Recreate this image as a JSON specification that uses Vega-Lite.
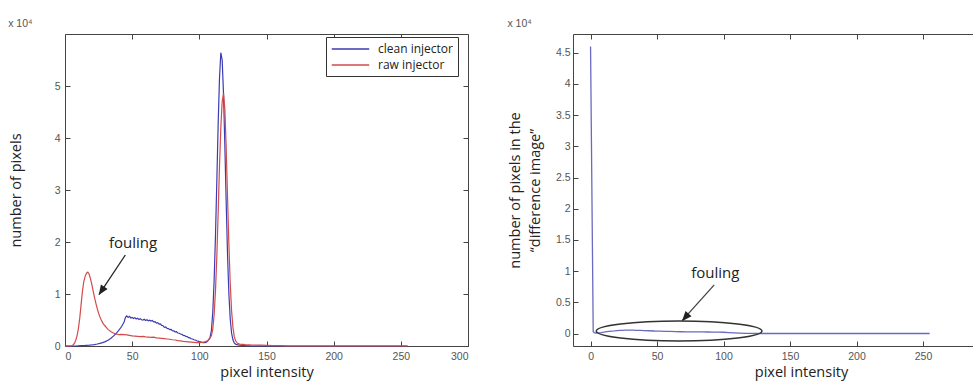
{
  "$schema": "https://vega.github.io/schema/vega-lite/v6.json",
  "background": "white",
  "padding": {"left": 7, "top": 18, "right": 5, "bottom": 5},
  "spacing": 105,
  "bounds": "flush",
  "config": {
    "view": {"stroke": "#444", "strokeWidth": 1},
    "axis": {"grid": false, "domain": false, "tickSize": -5, "tickColor": "#444", "tickWidth": 1, "labelFont": "Liberation Sans", "labelFontSize": 10.5, "labelColor": "#555", "labelPadding": 10, "titleFont": "Open Sans", "titleFontSize": 14.5, "titleFontWeight": "normal", "titleColor": "#222"},
    "title": {"font": "Liberation Sans", "fontSize": 10.5, "fontWeight": "normal", "color": "#555", "anchor": "start", "offset": 4}
  },
  "datasets": {
    "hist": [
      {"v":0,"n":0,"s":"clean injector"},{"v":5,"n":0,"s":"clean injector"},{"v":8,"n":0,"s":"clean injector"},{"v":10,"n":50,"s":"clean injector"},{"v":12,"n":80,"s":"clean injector"},{"v":14,"n":100,"s":"clean injector"},{"v":16,"n":120,"s":"clean injector"},{"v":18,"n":150,"s":"clean injector"},{"v":20,"n":200,"s":"clean injector"},{"v":22,"n":280,"s":"clean injector"},{"v":24,"n":380,"s":"clean injector"},{"v":26,"n":500,"s":"clean injector"},{"v":28,"n":650,"s":"clean injector"},{"v":30,"n":850,"s":"clean injector"},{"v":32,"n":1100,"s":"clean injector"},{"v":34,"n":1450,"s":"clean injector"},{"v":36,"n":1900,"s":"clean injector"},{"v":38,"n":2400,"s":"clean injector"},{"v":40,"n":3000,"s":"clean injector"},{"v":42,"n":3700,"s":"clean injector"},{"v":44,"n":4600,"s":"clean injector"},{"v":45,"n":5500,"s":"clean injector"},{"v":46,"n":5800,"s":"clean injector"},{"v":47,"n":5500,"s":"clean injector"},{"v":48,"n":5700,"s":"clean injector"},{"v":49,"n":5400,"s":"clean injector"},{"v":50,"n":5500,"s":"clean injector"},{"v":51,"n":5300,"s":"clean injector"},{"v":52,"n":5450,"s":"clean injector"},{"v":53,"n":5200,"s":"clean injector"},{"v":54,"n":5350,"s":"clean injector"},{"v":55,"n":5100,"s":"clean injector"},{"v":56,"n":5250,"s":"clean injector"},{"v":57,"n":5050,"s":"clean injector"},{"v":58,"n":5000,"s":"clean injector"},{"v":59,"n":5150,"s":"clean injector"},{"v":60,"n":4900,"s":"clean injector"},{"v":61,"n":5050,"s":"clean injector"},{"v":62,"n":4850,"s":"clean injector"},{"v":63,"n":4950,"s":"clean injector"},{"v":64,"n":4800,"s":"clean injector"},{"v":65,"n":4900,"s":"clean injector"},{"v":66,"n":4650,"s":"clean injector"},{"v":67,"n":4700,"s":"clean injector"},{"v":68,"n":4400,"s":"clean injector"},{"v":69,"n":4500,"s":"clean injector"},{"v":70,"n":4200,"s":"clean injector"},{"v":71,"n":4250,"s":"clean injector"},{"v":72,"n":3950,"s":"clean injector"},{"v":73,"n":3900,"s":"clean injector"},{"v":74,"n":3600,"s":"clean injector"},{"v":75,"n":3650,"s":"clean injector"},{"v":76,"n":3400,"s":"clean injector"},{"v":77,"n":3350,"s":"clean injector"},{"v":78,"n":3150,"s":"clean injector"},{"v":79,"n":3200,"s":"clean injector"},{"v":80,"n":2950,"s":"clean injector"},{"v":81,"n":2900,"s":"clean injector"},{"v":82,"n":2700,"s":"clean injector"},{"v":83,"n":2750,"s":"clean injector"},{"v":84,"n":2500,"s":"clean injector"},{"v":85,"n":2450,"s":"clean injector"},{"v":86,"n":2300,"s":"clean injector"},{"v":87,"n":2250,"s":"clean injector"},{"v":88,"n":2050,"s":"clean injector"},{"v":89,"n":2000,"s":"clean injector"},{"v":90,"n":1850,"s":"clean injector"},{"v":91,"n":1800,"s":"clean injector"},{"v":92,"n":1600,"s":"clean injector"},{"v":93,"n":1550,"s":"clean injector"},{"v":94,"n":1400,"s":"clean injector"},{"v":95,"n":1350,"s":"clean injector"},{"v":96,"n":1200,"s":"clean injector"},{"v":97,"n":1150,"s":"clean injector"},{"v":98,"n":1000,"s":"clean injector"},{"v":99,"n":950,"s":"clean injector"},{"v":100,"n":850,"s":"clean injector"},{"v":101,"n":800,"s":"clean injector"},{"v":102,"n":700,"s":"clean injector"},{"v":103,"n":650,"s":"clean injector"},{"v":104,"n":650,"s":"clean injector"},{"v":105,"n":700,"s":"clean injector"},{"v":106,"n":900,"s":"clean injector"},{"v":107,"n":1200,"s":"clean injector"},{"v":108,"n":1700,"s":"clean injector"},{"v":109,"n":3000,"s":"clean injector"},{"v":110,"n":6500,"s":"clean injector"},{"v":111,"n":12500,"s":"clean injector"},{"v":112,"n":21000,"s":"clean injector"},{"v":113,"n":31500,"s":"clean injector"},{"v":114,"n":42500,"s":"clean injector"},{"v":115,"n":51500,"s":"clean injector"},{"v":116,"n":56400,"s":"clean injector"},{"v":117,"n":55000,"s":"clean injector"},{"v":118,"n":48500,"s":"clean injector"},{"v":119,"n":38500,"s":"clean injector"},{"v":120,"n":27500,"s":"clean injector"},{"v":121,"n":17500,"s":"clean injector"},{"v":122,"n":10000,"s":"clean injector"},{"v":123,"n":5200,"s":"clean injector"},{"v":124,"n":2500,"s":"clean injector"},{"v":125,"n":1200,"s":"clean injector"},{"v":126,"n":600,"s":"clean injector"},{"v":127,"n":350,"s":"clean injector"},{"v":128,"n":250,"s":"clean injector"},{"v":130,"n":150,"s":"clean injector"},{"v":132,"n":100,"s":"clean injector"},{"v":134,"n":80,"s":"clean injector"},{"v":136,"n":50,"s":"clean injector"},{"v":138,"n":30,"s":"clean injector"},{"v":140,"n":0,"s":"clean injector"},{"v":255,"n":0,"s":"clean injector"},
      {"v":0,"n":0,"s":"raw injector"},{"v":4,"n":0,"s":"raw injector"},{"v":5,"n":50,"s":"raw injector"},{"v":6,"n":200,"s":"raw injector"},{"v":7,"n":500,"s":"raw injector"},{"v":8,"n":1100,"s":"raw injector"},{"v":9,"n":2000,"s":"raw injector"},{"v":10,"n":3400,"s":"raw injector"},{"v":11,"n":5400,"s":"raw injector"},{"v":12,"n":8000,"s":"raw injector"},{"v":13,"n":10600,"s":"raw injector"},{"v":14,"n":12400,"s":"raw injector"},{"v":15,"n":13400,"s":"raw injector"},{"v":16,"n":14000,"s":"raw injector"},{"v":17,"n":14200,"s":"raw injector"},{"v":18,"n":13800,"s":"raw injector"},{"v":19,"n":12900,"s":"raw injector"},{"v":20,"n":11800,"s":"raw injector"},{"v":21,"n":10500,"s":"raw injector"},{"v":22,"n":9300,"s":"raw injector"},{"v":23,"n":8200,"s":"raw injector"},{"v":24,"n":7200,"s":"raw injector"},{"v":25,"n":6300,"s":"raw injector"},{"v":26,"n":5600,"s":"raw injector"},{"v":27,"n":5000,"s":"raw injector"},{"v":28,"n":4500,"s":"raw injector"},{"v":29,"n":4100,"s":"raw injector"},{"v":30,"n":3800,"s":"raw injector"},{"v":31,"n":3500,"s":"raw injector"},{"v":32,"n":3200,"s":"raw injector"},{"v":33,"n":3000,"s":"raw injector"},{"v":34,"n":2800,"s":"raw injector"},{"v":35,"n":2650,"s":"raw injector"},{"v":36,"n":2500,"s":"raw injector"},{"v":37,"n":2400,"s":"raw injector"},{"v":38,"n":2300,"s":"raw injector"},{"v":40,"n":2200,"s":"raw injector"},{"v":42,"n":2250,"s":"raw injector"},{"v":44,"n":2200,"s":"raw injector"},{"v":46,"n":2150,"s":"raw injector"},{"v":48,"n":2050,"s":"raw injector"},{"v":50,"n":1950,"s":"raw injector"},{"v":52,"n":1900,"s":"raw injector"},{"v":54,"n":1850,"s":"raw injector"},{"v":56,"n":1800,"s":"raw injector"},{"v":58,"n":1850,"s":"raw injector"},{"v":60,"n":1750,"s":"raw injector"},{"v":62,"n":1700,"s":"raw injector"},{"v":64,"n":1650,"s":"raw injector"},{"v":66,"n":1700,"s":"raw injector"},{"v":68,"n":1550,"s":"raw injector"},{"v":70,"n":1500,"s":"raw injector"},{"v":72,"n":1450,"s":"raw injector"},{"v":74,"n":1400,"s":"raw injector"},{"v":76,"n":1350,"s":"raw injector"},{"v":78,"n":1300,"s":"raw injector"},{"v":80,"n":1200,"s":"raw injector"},{"v":82,"n":1150,"s":"raw injector"},{"v":84,"n":1050,"s":"raw injector"},{"v":86,"n":1000,"s":"raw injector"},{"v":88,"n":900,"s":"raw injector"},{"v":90,"n":850,"s":"raw injector"},{"v":92,"n":800,"s":"raw injector"},{"v":94,"n":750,"s":"raw injector"},{"v":96,"n":700,"s":"raw injector"},{"v":98,"n":650,"s":"raw injector"},{"v":100,"n":650,"s":"raw injector"},{"v":102,"n":700,"s":"raw injector"},{"v":104,"n":800,"s":"raw injector"},{"v":106,"n":1000,"s":"raw injector"},{"v":107,"n":1200,"s":"raw injector"},{"v":108,"n":1500,"s":"raw injector"},{"v":109,"n":2000,"s":"raw injector"},{"v":110,"n":3200,"s":"raw injector"},{"v":111,"n":6000,"s":"raw injector"},{"v":112,"n":10500,"s":"raw injector"},{"v":113,"n":17000,"s":"raw injector"},{"v":114,"n":25500,"s":"raw injector"},{"v":115,"n":34500,"s":"raw injector"},{"v":116,"n":42000,"s":"raw injector"},{"v":117,"n":47000,"s":"raw injector"},{"v":118,"n":48600,"s":"raw injector"},{"v":119,"n":45500,"s":"raw injector"},{"v":120,"n":38000,"s":"raw injector"},{"v":121,"n":28500,"s":"raw injector"},{"v":122,"n":19500,"s":"raw injector"},{"v":123,"n":12000,"s":"raw injector"},{"v":124,"n":6800,"s":"raw injector"},{"v":125,"n":3600,"s":"raw injector"},{"v":126,"n":1800,"s":"raw injector"},{"v":127,"n":1000,"s":"raw injector"},{"v":128,"n":650,"s":"raw injector"},{"v":129,"n":450,"s":"raw injector"},{"v":130,"n":350,"s":"raw injector"},{"v":134,"n":250,"s":"raw injector"},{"v":138,"n":200,"s":"raw injector"},{"v":142,"n":180,"s":"raw injector"},{"v":146,"n":150,"s":"raw injector"},{"v":150,"n":120,"s":"raw injector"},{"v":155,"n":80,"s":"raw injector"},{"v":160,"n":60,"s":"raw injector"},{"v":164,"n":30,"s":"raw injector"},{"v":166,"n":0,"s":"raw injector"},{"v":255,"n":0,"s":"raw injector"}
    ],
    "diff": [
      {"v":0,"n":46000},{"v":1,"n":23000},{"v":2,"n":300},{"v":3,"n":100},{"v":4,"n":80},{"v":6,"n":100},{"v":8,"n":150},{"v":10,"n":220},{"v":12,"n":300},{"v":14,"n":350},{"v":16,"n":400},{"v":18,"n":430},{"v":20,"n":470},{"v":22,"n":500},{"v":24,"n":520},{"v":26,"n":540},{"v":28,"n":550},{"v":30,"n":540},{"v":32,"n":530},{"v":34,"n":520},{"v":36,"n":500},{"v":38,"n":490},{"v":40,"n":470},{"v":44,"n":440},{"v":48,"n":400},{"v":52,"n":380},{"v":56,"n":350},{"v":60,"n":330},{"v":64,"n":300},{"v":68,"n":280},{"v":72,"n":270},{"v":76,"n":260},{"v":80,"n":250},{"v":84,"n":260},{"v":88,"n":240},{"v":92,"n":220},{"v":96,"n":230},{"v":100,"n":200},{"v":104,"n":150},{"v":108,"n":100},{"v":112,"n":60},{"v":116,"n":30},{"v":120,"n":10},{"v":124,"n":0},{"v":255,"n":0}
    ]
  },
  "hconcat": [
    {
      "width": 403,
      "height": 312,
      "title": {"text": "x 10⁴"},
      "layer": [
        {
          "data": {"name": "hist"},
          "mark": {"type": "line", "strokeWidth": 1.2},
          "encoding": {
            "x": {"field": "v", "type": "quantitative", "scale": {"domain": [0, 300], "nice": false, "zero": false},
                  "axis": {"orient": "bottom", "values": [0, 50, 100, 150, 200, 250, 300], "title": "pixel intensity", "titlePadding": 4}},
            "y": {"field": "n", "type": "quantitative", "scale": {"domain": [0, 60000], "nice": false},
                  "axis": {"orient": "left", "values": [0, 10000, 20000, 30000, 40000, 50000], "labelExpr": "datum.value / 10000", "title": "number of pixels", "titlePadding": 31}},
            "color": {"field": "s", "type": "nominal",
                      "scale": {"domain": ["clean injector", "raw injector"], "range": ["#3b3bb3", "#d24b4b"]},
                      "legend": {"orient": "none", "legendX": 261, "legendY": 3, "title": null, "strokeColor": "#333", "fillColor": "white", "padding": 5,
                                 "symbolType": "M -1 0 L 5 0", "symbolSize": 156, "symbolStrokeWidth": 1.3,
                                 "labelFont": "Open Sans", "labelFontSize": 12, "labelColor": "#222", "labelOffset": 33, "rowPadding": 3}}
          }
        },
        {
          "data": {"name": "hist"},
          "mark": {"type": "line", "opacity": 0},
          "encoding": {
            "x": {"field": "v", "type": "quantitative", "axis": {"orient": "top", "values": [0, 50, 100, 150, 200, 250, 300], "labels": false, "title": null}},
            "y": {"field": "n", "type": "quantitative", "axis": {"orient": "right", "values": [0, 10000, 20000, 30000, 40000, 50000], "labels": false, "title": null}}
          }
        },
        {
          "data": {"values": [{"v": 50.6, "n": 19900, "label": "fouling"}]},
          "mark": {"type": "text", "font": "Open Sans", "fontSize": 15, "color": "#222", "align": "center", "baseline": "middle"},
          "encoding": {
            "x": {"field": "v", "type": "quantitative", "axis": null},
            "y": {"field": "n", "type": "quantitative", "axis": null},
            "text": {"field": "label"}
          }
        },
        {
          "data": {"values": [{"v": 44.9, "n": 17500, "v2": 25.3, "n2": 9900}]},
          "mark": {"type": "rule", "color": "#222", "strokeWidth": 1.3},
          "encoding": {
            "x": {"field": "v", "type": "quantitative", "axis": null},
            "y": {"field": "n", "type": "quantitative", "axis": null},
            "x2": {"field": "v2"},
            "y2": {"field": "n2"}
          }
        },
        {
          "data": {"values": [{"v": 25.1, "n": 9800}]},
          "mark": {"type": "point", "shape": "M 0 0 L 0.4 1 L -0.4 1 Z", "size": 400, "filled": true, "opacity": 1, "color": "#222", "angle": 213.6},
          "encoding": {
            "x": {"field": "v", "type": "quantitative", "axis": null},
            "y": {"field": "n", "type": "quantitative", "axis": null}
          }
        }
      ],
      "resolve": {"axis": {"x": "independent", "y": "independent"}}
    },
    {
      "width": 456,
      "height": 312,
      "title": {"text": "x 10⁴"},
      "layer": [
        {
          "data": {"name": "diff"},
          "mark": {"type": "line", "color": "#6a6abf", "strokeWidth": 1.3},
          "encoding": {
            "x": {"field": "v", "type": "quantitative", "scale": {"domain": [-13.2, 329.7], "nice": false, "zero": false},
                  "axis": {"orient": "bottom", "values": [0, 50, 100, 150, 200, 250], "title": "pixel intensity", "titlePadding": 4, "titleX": 228}},
            "y": {"field": "n", "type": "quantitative", "scale": {"domain": [-2000, 48000], "nice": false, "zero": false},
                  "axis": {"orient": "left", "values": [0, 5000, 10000, 15000, 20000, 25000, 30000, 35000, 40000, 45000], "labelExpr": "datum.value / 10000", "labelPadding": 8,
                           "title": ["number of pixels in the", "“difference image”"], "titleLineHeight": 20, "titlePadding": 13}}
          }
        },
        {
          "data": {"name": "diff"},
          "mark": {"type": "line", "opacity": 0},
          "encoding": {
            "x": {"field": "v", "type": "quantitative", "axis": {"orient": "top", "values": [0, 50, 100, 150, 200, 250, 300], "labels": false, "title": null}},
            "y": {"field": "n", "type": "quantitative", "axis": {"orient": "right", "values": [0, 5000, 10000, 15000, 20000, 25000, 30000, 35000, 40000, 45000], "labels": false, "title": null}}
          }
        },
        {
          "data": {"values": [{"v": 66.6, "n": 400}]},
          "mark": {"type": "point", "shape": "M -1 0 C -1 -0.0667 -0.5523 -0.1207 0 -0.1207 C 0.5523 -0.1207 1 -0.0667 1 0 C 1 0.0667 0.5523 0.1207 0 0.1207 C -0.5523 0.1207 -1 0.0667 -1 0 Z", "size": 27456, "filled": false, "opacity": 1, "stroke": "#333", "strokeWidth": 1.5},
          "encoding": {
            "x": {"field": "v", "type": "quantitative", "axis": null},
            "y": {"field": "n", "type": "quantitative", "axis": null}
          }
        },
        {
          "data": {"values": [{"v": 93.8, "n": 9720, "label": "fouling"}]},
          "mark": {"type": "text", "font": "Open Sans", "fontSize": 15, "color": "#222", "align": "center", "baseline": "middle"},
          "encoding": {
            "x": {"field": "v", "type": "quantitative", "axis": null},
            "y": {"field": "n", "type": "quantitative", "axis": null},
            "text": {"field": "label"}
          }
        },
        {
          "data": {"values": [{"v": 93, "n": 7800, "v2": 69.0, "n2": 2100}]},
          "mark": {"type": "rule", "color": "#444", "strokeWidth": 1.3},
          "encoding": {
            "x": {"field": "v", "type": "quantitative", "axis": null},
            "y": {"field": "n", "type": "quantitative", "axis": null},
            "x2": {"field": "v2"},
            "y2": {"field": "n2"}
          }
        },
        {
          "data": {"values": [{"v": 68.7, "n": 1976}]},
          "mark": {"type": "point", "shape": "M 0 0 L 0.4 1 L -0.4 1 Z", "size": 400, "filled": true, "opacity": 1, "color": "#222", "angle": 221.4},
          "encoding": {
            "x": {"field": "v", "type": "quantitative", "axis": null},
            "y": {"field": "n", "type": "quantitative", "axis": null}
          }
        }
      ],
      "resolve": {"axis": {"x": "independent", "y": "independent"}}
    }
  ]
}
